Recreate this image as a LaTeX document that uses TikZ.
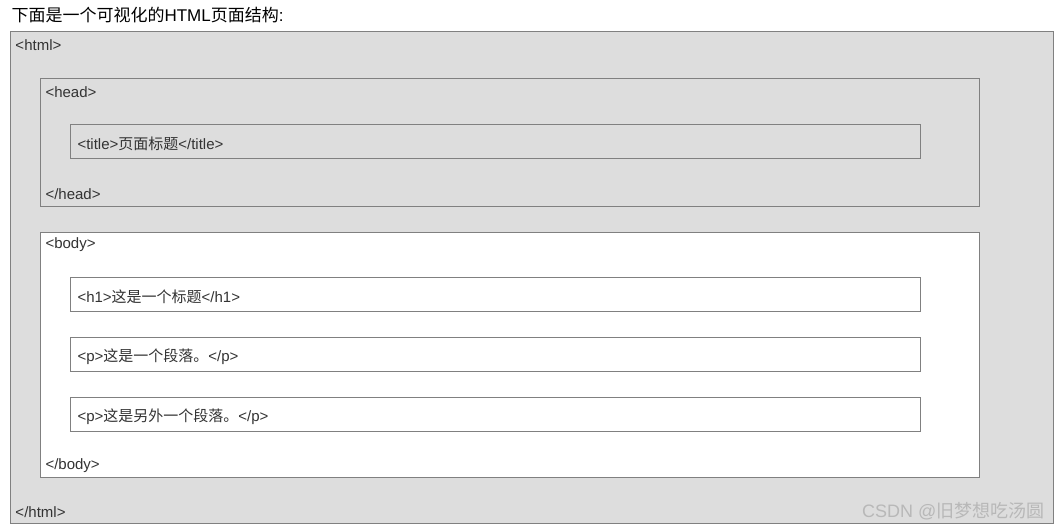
\documentclass[tikz,border=0pt]{standalone}
\usepackage{fontspec}
\setmainfont{Liberation Sans}
\newfontfamily\cjk{Noto Sans CJK SC}
\usetikzlibrary{positioning}
\definecolor{pagegray}{HTML}{DDDDDD}
\definecolor{framegray}{HTML}{808080}
\definecolor{inkgray}{HTML}{333333}

\begin{document}
\begin{tikzpicture}[x=1pt,y=-1pt,line width=1pt,
  tagbox/.style={draw=framegray,inner sep=0pt},
  leafbox/.style={tagbox,minimum width=850pt,minimum height=34pt},
  tag/.style={anchor=west,inner sep=0pt,text=inkgray,font=\fontsize{15}{18}\selectfont}]
  \useasboundingbox[fill=white] (0,0) rectangle (1059,530);

  % caption above the page
  \node[anchor=west,inner sep=0pt,text=black,font=\fontsize{17}{20}\selectfont]
    (caption) at (11,15) {{\cjk 下面是一个可视化的}HTML{\cjk 页面结构}:};

  % outer boxes
  \node[tagbox,fill=pagegray,anchor=north west,minimum width=1043pt,minimum height=492pt]
    (html) at (10,31) {};
  \node[tagbox,fill=pagegray,anchor=north west,minimum width=939pt,minimum height=128pt]
    (head) at (40,78) {};
  \node[tagbox,fill=white,anchor=north west,minimum width=939pt,minimum height=245pt]
    (body) at (40,232) {};

  % inner boxes
  \node[leafbox,anchor=north west] (title) at (70,124) {};
  \node[leafbox,anchor=north west] (h1) at (70,277) {};
  \node[leafbox,below=25pt of h1] (p1) {};
  \node[leafbox,below=25pt of p1] (p2) {};

  % tags
  \node[tag] (htmlopen)  at ([xshift=5pt]html.north west |- 0,45)  {<html>};
  \node[tag] (htmlclose) at ([xshift=5pt]html.north west |- 0,512) {</html>};
  \node[tag] (headopen)  at ([xshift=5pt]head.north west |- 0,92)  {<head>};
  \node[tag] (headclose) at ([xshift=5pt]head.north west |- 0,194) {</head>};
  \node[tag] (bodyopen)  at ([xshift=5pt]body.north west |- 0,245) {<body>};
  \node[tag] (bodyclose) at ([xshift=5pt]body.north west |- 0,466) {</body>};

  \node[tag] (titletext) at ([xshift=7pt,yshift=-2pt]title.west) {<title>{\cjk 页面标题}</title>};
  \node[tag] (h1text)    at ([xshift=7pt,yshift=-2pt]h1.west)    {<h1>{\cjk 这是一个标题}</h1>};
  \node[tag] (p1text)    at ([xshift=7pt,yshift=-2pt]p1.west)    {<p>{\cjk 这是一个段落。}</p>};
  \node[tag] (p2text)    at ([xshift=7pt,yshift=-2pt]p2.west)    {<p>{\cjk 这是另外一个段落。}</p>};

  % watermark
  \node[anchor=east,inner sep=0pt,text=black!28,font=\fontsize{18}{21}\selectfont]
    (mark) at (1045,511) {CSDN @{\cjk 旧梦想吃汤圆}};
\end{tikzpicture}
\end{document}
